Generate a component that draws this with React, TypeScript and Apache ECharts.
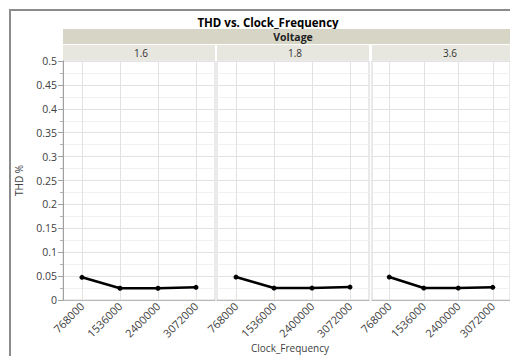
import React, { useEffect, useRef } from "react";
import * as echarts from "echarts";

const categories = ["768000", "1536000", "2400000", "3072000"];
const voltages = ["1.6", "1.8", "3.6"];
const thd16 = [0.0475, 0.0245, 0.0245, 0.0265];
const thd18 = [0.048, 0.025, 0.025, 0.027];
const thd36 = [0.048, 0.025, 0.025, 0.0265];
const seriesValues = [thd16, thd18, thd36];
const yTicksMin = 0;
const yTicksMax = 0.5;
const yInterval = 0.05;

const FONT = "'Open Sans', 'Noto Sans', sans-serif";
const panelLefts = [63, 217, 372];
const panelWidth = 152;
const plotTop = 61;
const plotHeight = 239;

export default function App() {
  const ref = useRef<HTMLDivElement>(null);
  useEffect(() => {
    if (!ref.current) return;
    const chart = echarts.init(ref.current, null, { renderer: "svg" });
    const grids = panelLefts.map((l) => ({
      left: l,
      top: plotTop,
      width: panelWidth,
      height: plotHeight,
      show: true,
      borderColor: "#d4d4d4",
      borderWidth: 1,
      backgroundColor: "transparent",
    }));
    const xAxes = panelLefts.map((_, i) => ({
      type: "category",
      gridIndex: i,
      data: categories,
      boundaryGap: true,
      axisLine: { show: true, lineStyle: { color: "#b8b8b8", width: 1 } },
      axisTick: { show: false },
      axisLabel: {
        rotate: 45,
        fontSize: 11,
        color: "#404040",
        fontFamily: FONT,
        margin: 4,
        interval: 0,
      },
      splitLine: {
        show: true,
        alignWithLabel: true,
        lineStyle: { color: "#e2e2e2", width: 1 },
      },
    }));
    const yAxes = panelLefts.map((_, i) => ({
      type: "value",
      gridIndex: i,
      min: yTicksMin,
      max: yTicksMax,
      interval: yInterval,
      name: i === 0 ? "THD %" : "",
      nameLocation: "middle",
      nameGap: 39,
      nameTextStyle: { fontSize: 10, color: "#404040", fontFamily: FONT },
      axisLine: {
        show: i === 0,
        lineStyle: { color: "#a0a0a0", width: 1 },
      },
      axisTick: {
        show: i === 0,
        length: 5,
        lineStyle: { color: "#a0a0a0" },
      },
      minorTick: {
        show: i === 0,
        splitNumber: 2,
        length: 3,
        lineStyle: { color: "#b0b0b0" },
      },
      axisLabel: {
        show: i === 0,
        fontSize: 10.5,
        color: "#404040",
        fontFamily: FONT,
        margin: 6,
      },
      splitLine: { show: true, lineStyle: { color: "#e2e2e2", width: 1 } },
      minorSplitLine: { show: true, lineStyle: { color: "#f1f1f1", width: 1 } },
    }));
    const series = seriesValues.map((vals, i) => ({
      type: "line",
      xAxisIndex: i,
      yAxisIndex: i,
      data: vals,
      symbol: "circle",
      symbolSize: 5,
      lineStyle: { color: "#000", width: 2.5 },
      itemStyle: { color: "#000" },
    }));
    const graphic: any[] = [
      {
        type: "rect",
        shape: { x: 10, y: 10, width: 560, height: 400 },
        style: { fill: "none", stroke: "#8c8c8c", lineWidth: 2 },
        silent: true,
      },
      {
        type: "text",
        x: 268,
        y: 22,
        style: {
          text: "THD vs. Clock_Frequency",
          font: `bold 11.5px ${FONT}`,
          fill: "#000",
          textAlign: "center",
          textVerticalAlign: "middle",
        },
      },
      {
        type: "rect",
        shape: { x: 63, y: 29, width: 462, height: 15 },
        style: { fill: "#d7d5c6" },
        silent: true,
      },
      {
        type: "text",
        x: 293,
        y: 37,
        style: {
          text: "Voltage",
          font: `bold 10.5px ${FONT}`,
          fill: "#222",
          textAlign: "center",
          textVerticalAlign: "middle",
        },
      },
      {
        type: "text",
        x: 290,
        y: 348,
        style: {
          text: "Clock_Frequency",
          font: `10px ${FONT}`,
          fill: "#404040",
          textAlign: "center",
          textVerticalAlign: "middle",
        },
      },
    ];
    panelLefts.forEach((l, i) => {
      graphic.push({
        type: "rect",
        shape: { x: l, y: 45, width: panelWidth, height: 15 },
        style: { fill: "#e7e7df" },
        silent: true,
      });
      graphic.push({
        type: "text",
        x: l + panelWidth / 2 + 2,
        y: 53,
        style: {
          text: voltages[i],
          font: `10px ${FONT}`,
          fill: "#333",
          textAlign: "center",
          textVerticalAlign: "middle",
        },
      });
    });
    chart.setOption({
      animation: false,
      backgroundColor: "#fff",
      grid: grids,
      xAxis: xAxes,
      yAxis: yAxes,
      series,
      graphic,
    });
    return () => chart.dispose();
  }, []);
  return (
    <div
      ref={ref}
      style={{ position: "fixed", left: 0, top: 0, width: 510, height: 356 }}
    />
  );
}
